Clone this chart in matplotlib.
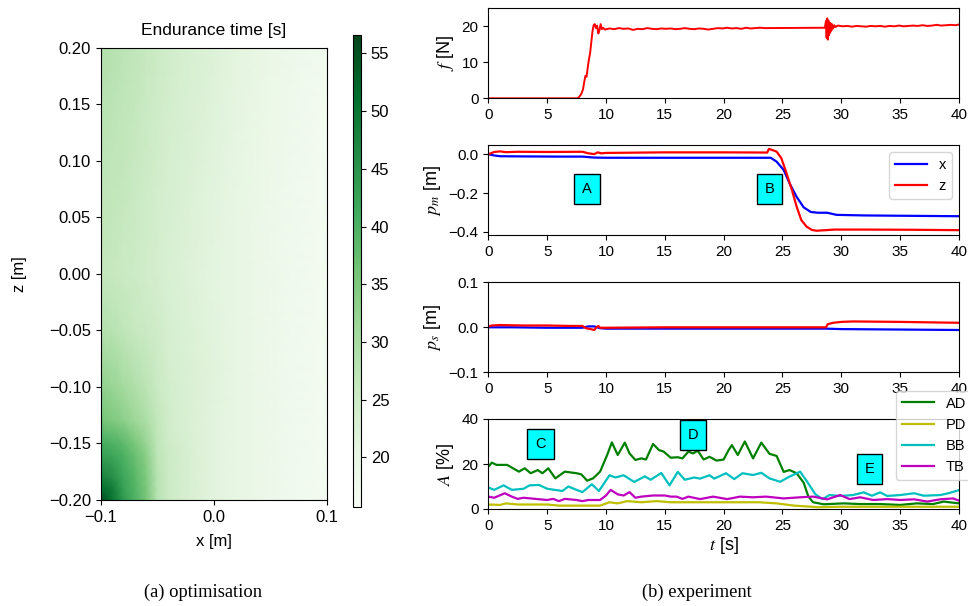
import matplotlib
matplotlib.use("Agg")
import matplotlib.pyplot as plt
import numpy as np

plt.rcParams['font.family'] = ['Liberation Sans', 'DejaVu Sans']
plt.rcParams['mathtext.fontset'] = 'stix'

# ---------------- heatmap data (endurance time [s]) ----------------
grid_x = [-0.1, -0.09, -0.08, -0.07, -0.06, -0.05, -0.04, -0.02, 0.0, 0.02, 0.05, 0.1]
grid_z = [-0.2, -0.19, -0.18, -0.17, -0.16, -0.15, -0.13, -0.1, -0.05, 0.0, 0.05, 0.1, 0.15, 0.2]
endurance = [
    [56.0, 50.0, 44.0, 40.0, 36.0, 28.0, 25.0, 23.0, 21.2, 20.0, 18.5, 16.5],
    [51.0, 49.0, 43.0, 39.5, 35.5, 28.0, 25.0, 23.0, 21.2, 20.0, 18.5, 16.5],
    [48.0, 46.0, 42.0, 39.0, 35.0, 28.0, 25.0, 23.0, 21.2, 20.0, 18.5, 16.5],
    [45.5, 44.0, 41.0, 38.0, 34.5, 27.5, 25.0, 23.0, 21.2, 20.0, 18.5, 16.5],
    [43.0, 42.0, 40.0, 37.0, 33.5, 27.3, 25.0, 23.0, 21.2, 20.0, 18.5, 16.5],
    [41.0, 40.0, 38.5, 35.5, 32.0, 27.0, 24.5, 22.8, 21.2, 20.0, 18.5, 16.5],
    [36.0, 35.0, 33.5, 31.5, 29.5, 26.5, 24.3, 22.6, 21.2, 20.0, 18.5, 16.5],
    [33.0, 32.0, 30.5, 29.0, 27.5, 25.5, 24.0, 22.5, 21.5, 20.0, 18.5, 16.5],
    [28.5, 28.0, 27.0, 26.0, 25.3, 24.5, 23.5, 22.3, 21.3, 20.0, 18.5, 16.5],
    [26.5, 26.0, 25.5, 25.0, 24.3, 23.7, 23.0, 22.0, 21.0, 20.0, 18.5, 16.5],
    [27.0, 26.5, 26.0, 25.3, 24.7, 24.0, 23.3, 22.2, 21.2, 20.0, 18.5, 16.5],
    [27.5, 27.0, 26.5, 25.8, 25.0, 24.3, 23.6, 22.5, 21.5, 20.3, 18.7, 16.6],
    [28.0, 27.5, 27.0, 26.3, 25.5, 24.8, 24.0, 22.8, 21.8, 20.6, 19.0, 16.8],
    [29.0, 28.3, 27.5, 26.8, 26.0, 25.2, 24.4, 23.2, 22.2, 21.0, 19.3, 17.0],
]
cbar_ticks = [20, 25, 30, 35, 40, 45, 50, 55]

# ---------------- experiment data ----------------
t_f = [0.0, 7.6, 7.75, 7.9, 8.05, 8.15, 8.25, 8.35, 8.45, 8.55, 8.65, 8.75, 8.85, 8.95, 9.05, 9.15, 9.25, 9.35, 9.45, 9.55, 9.65, 9.75, 9.9,
       10.3, 10.7, 11.1, 11.5, 11.9, 12.3, 12.7, 13.1, 13.5, 13.9, 14.3, 14.7, 15.1, 15.5, 15.9, 16.3, 16.7, 17.1, 17.5, 17.9, 18.3, 18.7, 19.1, 19.5, 19.9, 20.3, 20.7, 21.1, 21.5, 21.9, 22.3, 22.7, 23.1, 23.5,
       28.6, 28.7, 28.75, 28.8, 28.85, 28.9, 28.95, 29.0, 29.05, 29.1, 29.15, 29.2, 29.3, 29.4, 29.5, 29.7,
       30.1, 30.5, 30.9, 31.3, 31.7, 32.1, 32.5, 32.9, 33.3, 33.7, 34.1, 34.5, 34.9, 35.3, 35.7, 36.1, 36.5, 36.9, 37.3, 37.7, 38.1, 38.5, 38.9, 39.3, 39.7, 40.0]
f_force = [0.0, 0.0, 0.5, 1.2, 2.5, 4.5, 6.2, 6.0, 8.5, 10.8, 12.5, 15.5, 18.5, 20.3, 20.6, 19.5, 20.2, 18.0, 19.0, 20.6, 19.2, 19.6, 19.1,
           19.4, 19.2, 19.5, 19.3, 19.4, 19.0, 19.3, 19.2, 19.5, 19.3, 19.2, 19.4, 19.3, 19.4, 19.2, 19.3, 19.5, 19.3, 19.2, 19.4, 19.3, 19.1, 19.3, 19.5, 19.4, 19.6, 19.4, 19.5, 19.3, 19.6, 19.4, 19.5, 19.6, 19.5,
           19.6, 21.5, 16.8, 22.2, 16.3, 21.6, 17.5, 21.0, 18.2, 20.8, 18.8, 20.6, 19.4, 20.3, 19.8, 20.2,
           20.0, 20.1, 19.9, 20.1, 20.0, 19.9, 20.1, 20.0, 20.1, 19.9, 20.1, 20.0, 20.2, 20.0, 20.1, 20.2, 20.1, 20.3, 20.1, 20.2, 20.4, 20.2, 20.3, 20.4, 20.3, 20.5]

t_pmx = [0, 0.5, 1, 3, 6, 8, 9, 10, 15, 20, 24, 24.5, 25.1, 25.6, 26.2, 26.8, 27.4, 28, 28.8, 29.6, 32, 36, 40]
pm_x = [0.0, -0.006, -0.01, -0.011, -0.012, -0.012, -0.017, -0.018, -0.018, -0.018, -0.018, -0.038, -0.081, -0.15, -0.22, -0.274, -0.298, -0.302, -0.302, -0.313, -0.316, -0.318, -0.32]
t_pmz = [0, 0.5, 1, 1.5, 2.5, 5, 8, 8.5, 9, 9.3, 9.6, 10, 15, 20, 23.7, 23.85, 24.5, 24.9, 25.3, 25.8, 26.2, 26.6, 27.05, 27.5, 27.9, 29.4, 32, 36, 40]
pm_z = [0.0, 0.012, 0.015, 0.011, 0.013, 0.012, 0.013, 0.005, 0.001, 0.01, 0.005, 0.007, 0.01, 0.01, 0.009, 0.028, 0.014, -0.02, -0.09, -0.184, -0.27, -0.34, -0.374, -0.391, -0.395, -0.389, -0.389, -0.39, -0.392]

t_psx = [0, 2, 5, 8, 8.5, 9, 9.5, 10, 15, 20, 25, 28.7, 30, 35, 40]
ps_x = [0.0, 0.0, -0.001, -0.001, 0.002, 0.002, -0.002, -0.003, -0.003, -0.003, -0.003, -0.003, -0.004, -0.005, -0.006]
t_psz = [0, 0.3, 1, 3, 5, 7, 8, 8.3, 8.7, 9.0, 9.2, 9.35, 9.5, 10, 15, 20, 25, 28.7, 28.85, 29.3, 30, 31, 35, 40]
ps_z = [0.002, 0.004, 0.005, 0.004, 0.004, 0.003, 0.003, -0.002, -0.004, -0.006, 0.0, 0.003, -0.001, -0.001, 0.0, 0.0, 0.0, 0.0, 0.007, 0.01, 0.012, 0.013, 0.012, 0.010]

t_ad = [0, 0.3, 0.7, 1.6, 2.6, 3.1, 3.6, 4.2, 4.6, 5.1, 5.7, 6.5, 7.5, 7.9, 8.4, 8.9, 9.5, 10.1, 10.5, 11.0, 11.6, 12.0, 12.5, 13.0, 13.4,
        14.0, 14.5, 14.9, 15.5, 16.1, 16.5, 17.0, 17.4, 17.8, 18.3, 18.8, 19.4, 20.0, 20.4, 20.7, 21.2, 21.8, 22.5, 23.2, 23.9,
        24.5, 25.1, 25.6, 26.2, 26.8, 27.2, 27.6, 28.5, 30.2, 31.6, 33.3, 35.0, 36.4, 37.8, 38.7, 40]
a_ad = [18.8, 20.6, 19.6, 19.6, 16.6, 18.1, 15.9, 17.3, 15.9, 18.1, 13.6, 16.6, 15.9, 15.4, 12.6, 13.6, 16.6, 24, 29.6, 24, 29.5, 24.7, 21.8, 22.5, 22,
        28.9, 26.2, 25.5, 22.8, 23, 22.5, 25.5, 24.7, 25.9, 22, 23.2, 21.5, 22, 26, 28.4, 24, 30, 22.5, 29.5, 24.5,
        23.6, 16.5, 17.3, 15.9, 11.7, 5.5, 3, 2.1, 2.5, 2.2, 2.2, 1.8, 2.5, 2.2, 3.3, 2.5]

t_pd = [0, 1.0, 1.5, 2.5, 5.0, 6.0, 8.0, 9.5, 10.3, 11.0, 11.8, 13.0, 14.3, 15.5, 20.0, 23.0, 24.5, 26.0, 27.5, 28.0, 30.0, 40]
a_pd = [2, 1.8, 2.5, 2, 2, 1.5, 1.5, 1.5, 3, 2.5, 3.5, 3, 3.5, 3, 3, 3, 2.5, 1.5, 1, 0.8, 1, 1]

t_bb = [0, 0.5, 1.3, 2.0, 3.0, 3.5, 4.3, 5.0, 6.3, 6.8, 7.5, 8.0, 8.8, 9.4, 10.3, 10.8, 11.5, 12.4, 13.3, 13.8,
        14.7, 15.4, 16.1, 16.7, 17.5, 18.0, 18.8, 19.2, 20.2, 20.9, 21.6, 22.5, 23.2, 23.9, 24.8, 25.6, 26.5, 27.1,
        27.8, 28.4, 29.0, 29.9, 31.0, 31.9, 32.6, 33.3, 33.9, 35.0, 36.2, 37.0, 38.4, 39.1, 40]
a_bb = [9.6, 8.5, 10.5, 8.5, 9, 10.5, 10.7, 9, 8, 10, 8.5, 7.5, 11, 8, 15, 14, 15, 12, 14.5, 13,
        16, 10.5, 16.5, 13, 14, 13.5, 15, 13.5, 15.9, 13.3, 15.9, 15.1, 16.1, 13.6, 12.1, 14.4, 16.6, 12.1,
        6.5, 4.4, 6.2, 5.8, 6.2, 7.4, 5.9, 7.4, 5.8, 6.2, 7, 5.9, 6.2, 7, 8.4]

t_tb = [0, 0.5, 1.4, 2.0, 2.5, 3.0, 4.0, 5.0, 5.5, 6.0, 6.5, 7.5, 8.0, 8.5, 9.5, 10.0, 10.4, 11.0, 11.5, 12.0,
        12.5, 13.0, 14.0, 15.0, 15.5, 16.0, 16.5, 17.0, 18.0, 19.1, 20.3, 21.4, 22.5, 23.6, 25.1, 26.5, 27.6,
        28.8, 29.9, 30.7, 31.6, 32.7, 33.9, 35.0, 36.2, 37.3, 38.4, 39.5, 40]
a_tb = [5.5, 5, 7, 5.5, 4.5, 5, 4.5, 4, 4.5, 3.5, 4.5, 4, 3.5, 4, 4, 6, 8.5, 6.5, 6, 7.5,
        5, 5.5, 6, 6, 5.5, 5.5, 4.5, 5.5, 4.4, 5.5, 4.4, 5.5, 5.2, 5.5, 4.7, 5.2, 5.5,
        4.3, 6.2, 4.4, 5.2, 4, 4.4, 4, 4.3, 3.3, 4.3, 4.7, 3.7]

phase_labels = ['A', 'B', 'C', 'D', 'E']
phase_t = [8.4, 23.9, 4.45, 17.4, 32.4]
phase_y = [-0.18, -0.178, 28.7, 32.7, 17.8]

W, H = 968, 606
fig = plt.figure(figsize=(W / 100, H / 100), dpi=100)

def fx(px):
    return px / W

def fy(py):
    return 1 - py / H

# ---- heatmap ----
axh = fig.add_axes([fx(100.7), fy(500), fx(327) - fx(100.7), fy(47.7) - fy(500)])
pc = axh.pcolormesh(grid_x, grid_z, np.array(endurance), shading='gouraud',
                    cmap='Greens', vmin=15.7, vmax=56.6)
axh.set_xlim(-0.1, 0.1)
axh.set_ylim(-0.2, 0.2)
axh.set_xticks([-0.1, 0.0, 0.1])
axh.set_yticks([-0.2, -0.15, -0.1, -0.05, 0.0, 0.05, 0.1, 0.15, 0.2])
axh.tick_params(labelsize=12)
axh.set_xlabel('x [m]', fontsize=12, labelpad=7)
axh.set_ylabel('z [m]', fontsize=12, labelpad=16)
axh.set_title('Endurance time [s]', fontsize=12.5, pad=9)

cax = fig.add_axes([fx(352.7), fy(507), fx(361) - fx(352.7), fy(35) - fy(507)])
cb = fig.colorbar(pc, cax=cax, ticks=cbar_ticks)
cb.ax.tick_params(labelsize=12)

# ---- experiment ----
left = fx(488.3)
width = fx(959) - fx(488.3)
tops = [8.3, 145, 282.3, 419]
axes = []
for tp in tops:
    ax = fig.add_axes([left, fy(tp + 90), width, fy(tp) - fy(tp + 90)])
    ax.set_xlim(0, 40)
    ax.set_xticks([0, 5, 10, 15, 20, 25, 30, 35, 40])
    ax.tick_params(labelsize=11)
    axes.append(ax)
ax1, ax2, ax3, ax4 = axes

ax1.plot(t_f, f_force, color='r', lw=1.4)
ax1.set_ylim(0, 25)
ax1.set_yticks([0, 10, 20])
ax1.set_ylabel('$f$ [N]', fontsize=13)

ax2.plot(t_pmx, pm_x, color='b', lw=1.6, label='x')
ax2.plot(t_pmz, pm_z, color='r', lw=1.6, label='z')
ax2.set_ylim(-0.417, 0.048)
ax2.set_yticks([-0.4, -0.2, 0.0])
ax2.set_ylabel('$p_m$ [m]', fontsize=13)
ax2.legend(loc='upper right', fontsize=10.5, handlelength=2.2)

ax3.plot(t_psx, ps_x, color='b', lw=1.6)
ax3.plot(t_psz, ps_z, color='r', lw=1.6)
ax3.set_ylim(-0.1, 0.1)
ax3.set_yticks([-0.1, 0.0, 0.1])
ax3.set_ylabel('$p_s$ [m]', fontsize=13)

ax4.plot(t_ad, a_ad, color='g', lw=1.6, label='AD')
ax4.plot(t_pd, a_pd, color='y', lw=1.6, label='PD')
ax4.plot(t_bb, a_bb, color='c', lw=1.6, label='BB')
ax4.plot(t_tb, a_tb, color='m', lw=1.6, label='TB')
ax4.set_ylim(0, 40)
ax4.set_yticks([0, 20, 40])
ax4.set_ylabel('$A$ [%]', fontsize=13)
ax4.set_xlabel('$t$ [s]', fontsize=13, labelpad=2)
ax4.legend(loc='upper left', bbox_to_anchor=(fx(896), fy(390.7)),
           bbox_transform=fig.transFigure, borderaxespad=0,
           fontsize=10.5, handlelength=2.2)

box = dict(boxstyle='square,pad=0.55', facecolor='cyan', edgecolor='black', lw=1)
for lab, tt, yy in zip(phase_labels, phase_t, phase_y):
    target = ax2 if lab in ('A', 'B') else ax4
    target.text(tt, yy, lab, ha='center', va='center', fontsize=10.5, bbox=box)

fig.text(fx(203), fy(592), '(a) optimisation', ha='center', va='center',
         family='Liberation Serif', fontsize=13.3)
fig.text(fx(697), fy(592), '(b) experiment', ha='center', va='center',
         family='Liberation Serif', fontsize=13.3)

fig.savefig('out.png', dpi=100)
